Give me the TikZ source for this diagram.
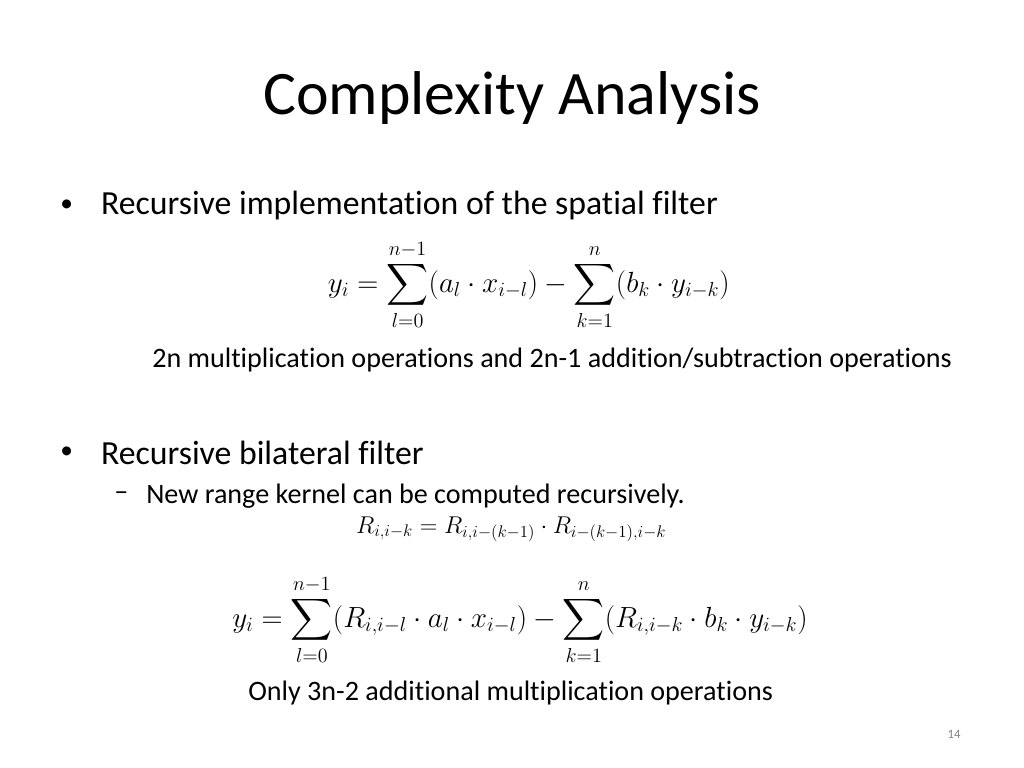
\documentclass[tikz,border=0pt]{standalone}
\usepackage{amsmath}
\usepackage{fontspec}
\setmainfont[RawFeature=-liga]{Carlito}
\usepackage{tikz}
\usetikzlibrary{positioning}
\tikzset{
  titletxt/.style={font=\fontsize{44}{50}\selectfont, inner sep=0pt},
  bullettxt/.style={font=\fontsize{24}{28}\selectfont, anchor=west, inner sep=0pt},
  dottxt/.style={font=\fontsize{18}{22}\selectfont, anchor=west, inner sep=0pt},
  subtxt/.style={font=\fontsize{20}{24}\selectfont, anchor=west, inner sep=0pt},
  eqn/.style={font=\fontsize{18.3}{22}\selectfont, inner sep=0pt},
}
\begin{document}
\begin{tikzpicture}
  \useasboundingbox (0,0) rectangle (25.6,19.2);

  % title
  \node[titletxt] (title) at (12.8,16.75) {Complexity Analysis};

  % first bullet
  \node[dottxt] (dot1) at (1.5,14.05) {\textbullet};
  \node[bullettxt] (b1) at (2.52,14.05) {Recursive implementation of the spatial filter};
  \node[eqn, font=\fontsize{20}{24}\selectfont] (eq1) at (13.22,12.08)
    {$\displaystyle y_i=\sum_{l=0}^{n-1}(a_l\cdot x_{i-l})-\sum_{k=1}^{n}(b_k\cdot y_{i-k})$};
  \node[subtxt] (note1) at (3.8,10.2) {2n multiplication operations and 2n-1 addition/subtraction operations};

  % second bullet
  \node[dottxt] (dot2) at (1.5,7.87) {\textbullet};
  \node[bullettxt] (b2) at (2.52,7.87) {Recursive bilateral filter};
  \node[subtxt] (dash2) at (2.85,6.8) {\textendash};
  \node[subtxt] (s2) at (3.65,6.8) {New range kernel can be computed recursively.};
  \node[eqn] (eq2) at (12.78,5.97)
    {$R_{i,i-k}=R_{i,i-(k-1)}\cdot R_{i-(k-1),i-k}$};
  \node[eqn, font=\fontsize{19.5}{23}\selectfont] (eq3) at (13.0,3.7)
    {$\displaystyle y_i=\sum_{l=0}^{n-1}(R_{i,i-l}\cdot a_l\cdot x_{i-l})-\sum_{k=1}^{n}(R_{i,i-k}\cdot b_k\cdot y_{i-k})$};
  \node[subtxt] (note2) at (6.2,1.88) {Only 3n-2 additional multiplication operations};

  % page number
  \node[font=\fontsize{9}{11}\selectfont, text=gray] (pg) at (23.85,0.85) {14};
\end{tikzpicture}
\end{document}
